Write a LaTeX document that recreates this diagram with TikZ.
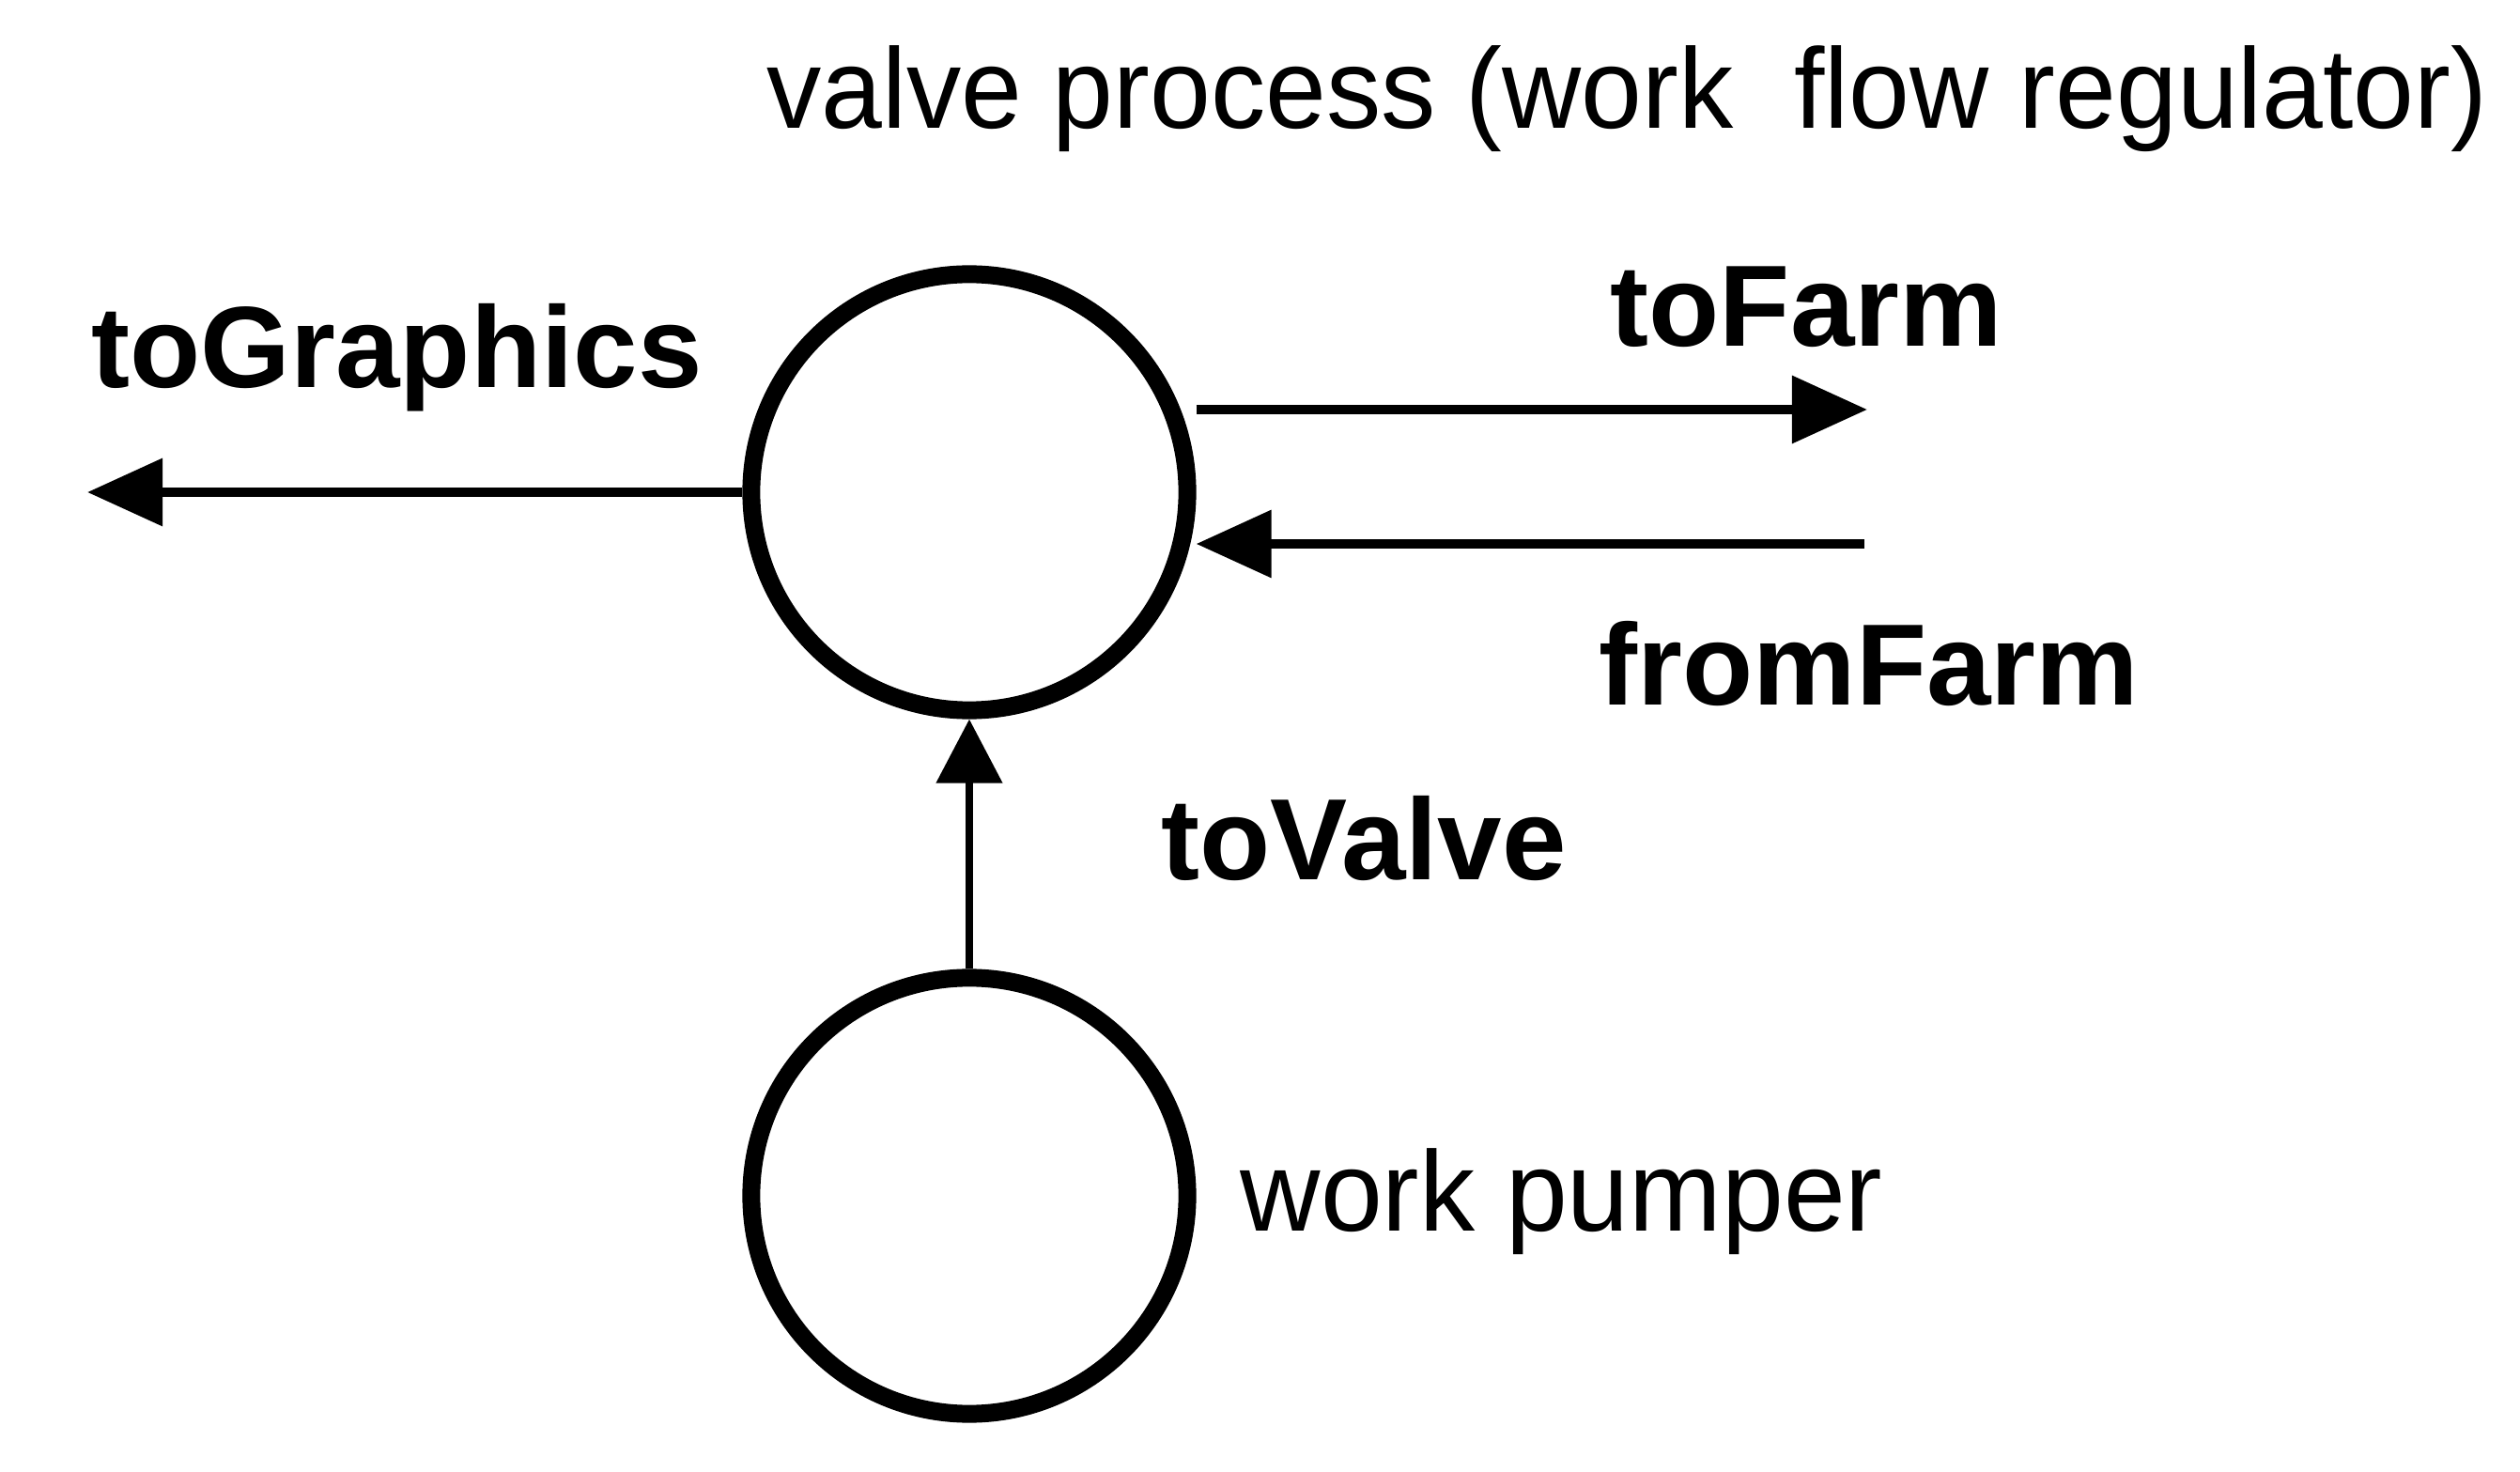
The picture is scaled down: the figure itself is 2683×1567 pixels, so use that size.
\documentclass[tikz,border=0pt]{standalone}
\usepackage{fontspec}
\setmainfont{Liberation Sans}
\usetikzlibrary{arrows.meta}
\begin{document}
\begin{tikzpicture}[x=0.01cm,y=-0.01cm,
  proc/.style={circle,draw,line width=5.4pt,inner sep=0pt,minimum size=4.64cm},
  flow/.style={line width=2.85pt,-{Triangle[length=0.8cm,width=0.7cm]}},
  flowv/.style={line width=2.3pt,-{Triangle[length=0.68cm,width=0.69cm]}},
  lbl/.style={anchor=base west,inner sep=0pt,font=\fontsize{35}{42}\selectfont\bfseries},
  txt/.style={anchor=base west,inner sep=0pt,font=\fontsize{34.5}{40}\selectfont}]
\useasboundingbox (0,0) rectangle (2683,1567);
\node[proc] (vp) at (1032,524) {};
\node[proc] (wp) at (1032,1273) {};
\coordinate (gfxEnd) at (93,524);
\coordinate (farmOut) at (1988,436);
\coordinate (farmIn) at (1985,579);
\draw[flow] (vp.west) -- (gfxEnd);
\draw[flow] (vp.east |- farmOut) -- (farmOut);
\draw[flow] (farmIn) -- (vp.east |- farmIn);
\draw[flowv] (wp.north) -- (vp.south);
\node[txt] (title) at (816,137) {\scalebox{0.96}[1]{valve process (work~~flow regulator)}};
\node[txt] (pumper) at (1320,1310) {\scalebox{0.975}[1]{work pumper}};
\node[lbl] (lgfx) at (97,413) {toGraphics};
\node[lbl] (lfarm) at (1714,369) {toFarm};
\node[lbl] (lfrom) at (1702,751) {fromFarm};
\node[lbl] (lvalve) at (1236,937) {toValve};
\end{tikzpicture}
\end{document}
